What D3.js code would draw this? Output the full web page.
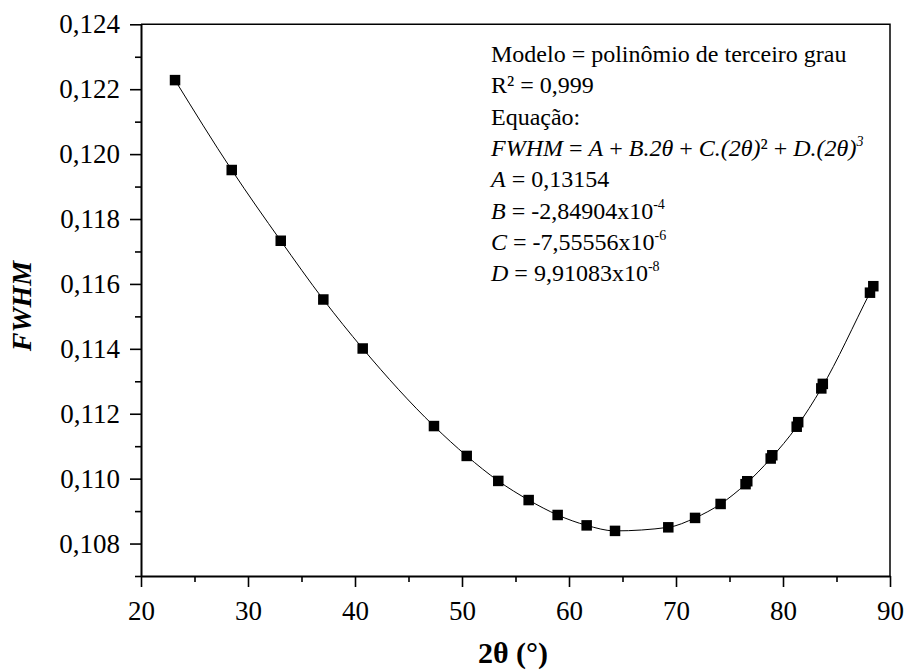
<!DOCTYPE html>
<html>
<head>
<meta charset="utf-8">
<script src="https://cdn.jsdelivr.net/npm/d3@7"></script>
<style>
  html, body { margin: 0; padding: 0; background: #ffffff; }
  svg { display: block; }
  text { font-family: "Liberation Serif", "Times New Roman", serif; fill: #000; }
</style>
</head>
<body>
<svg id="chart" width="905" height="671"></svg>
<script>
// ---- data ----
const twoTheta = [23.18, 28.48, 33.06, 37.04, 40.72, 47.38, 50.44, 53.39, 56.23, 58.94, 61.65, 64.30, 69.28, 71.78, 74.17, 76.50, 78.85, 81.28, 83.58, 88.13, 88.44];
const fwhm     = [0.12228, 0.11951, 0.11733, 0.11552, 0.11401, 0.11162, 0.11070, 0.10993, 0.10934, 0.10888, 0.10856, 0.10839, 0.10850, 0.10879, 0.10922, 0.10983, 0.11062, 0.11160, 0.11278, 0.11573, 0.11593];
// slightly offset duplicate markers visible in the picture
const twoThetaDup = [76.66, 79.00, 81.42, 83.72];
const fwhmDup     = [0.10992, 0.11072, 0.11174, 0.11292];

const xTicks = [20, 30, 40, 50, 60, 70, 80, 90];
const xMinor = [25, 35, 45, 55, 65, 75, 85];
const yTicks = [0.108, 0.110, 0.112, 0.114, 0.116, 0.118, 0.120, 0.122, 0.124];
const yMinor = [0.107, 0.109, 0.111, 0.113, 0.115, 0.117, 0.119, 0.121, 0.123];
const xTitle = "2θ (°)";
const yTitle = "FWHM";

// ---- layout ----
const svg = d3.select("#chart");
const L = 141, R = 890, T = 24.3, B = 576;
const x = d3.scaleLinear().domain([20, 90]).range([L, R]);
const y = d3.scaleLinear().domain([0.107, 0.124]).range([B, T]);
const fmtY = v => d3.format(".3f")(v).replace(".", ",");

// frame (top & right)
svg.append("path")
  .attr("d", `M${L},${T}H${R}V${B}`)
  .attr("fill", "none").attr("stroke", "#000").attr("stroke-width", 1.5);

// x axis
const gx = svg.append("g").attr("transform", `translate(0,${B})`);
gx.call(d3.axisBottom(x).tickValues(xTicks).tickSize(11).tickSizeOuter(0).tickPadding(14).tickFormat(d3.format("d")));
gx.append("g").call(d3.axisBottom(x).tickValues(xMinor).tickSize(6).tickSizeOuter(0).tickFormat(""))
  .select(".domain").remove();
// y axis
const gy = svg.append("g").attr("transform", `translate(${L},0)`);
gy.call(d3.axisLeft(y).tickValues(yTicks).tickSize(11).tickSizeOuter(0).tickPadding(10).tickFormat(fmtY));
gy.append("g").call(d3.axisLeft(y).tickValues(yMinor).tickSize(6).tickSizeOuter(0).tickFormat(""))
  .select(".domain").remove();

svg.selectAll(".domain").attr("stroke", "#000").attr("stroke-width", 2);
svg.selectAll(".tick line").attr("stroke", "#000").attr("stroke-width", 1.6);
svg.selectAll(".tick text")
  .style("font-family", "'Liberation Serif', serif")
  .style("font-size", "27px").attr("fill", "#000");

// axis titles
svg.append("text")
  .attr("x", 513).attr("y", 663)
  .attr("text-anchor", "middle")
  .style("font-size", "30px").style("font-weight", "bold")
  .text(xTitle);
svg.append("text")
  .attr("transform", `translate(31,306) rotate(-90)`)
  .attr("text-anchor", "middle")
  .style("font-size", "28px").style("font-weight", "bold").style("font-style", "italic")
  .text(yTitle);

// fitted curve drawn through the read points
const pts = twoTheta.map((d, i) => [d, fwhm[i]]);
svg.append("path")
  .datum(pts)
  .attr("fill", "none").attr("stroke", "#000").attr("stroke-width", 1)
  .attr("d", d3.line().x(d => x(d[0])).y(d => y(d[1])).curve(d3.curveMonotoneX));

// markers
const S = 10.5;
const allPts = pts.concat(twoThetaDup.map((d, i) => [d, fwhmDup[i]]));
svg.append("g").selectAll("rect").data(allPts).join("rect")
  .attr("x", d => x(d[0]) - S / 2).attr("y", d => y(d[1]) - S / 2)
  .attr("width", S).attr("height", S).attr("fill", "#000");

// annotation
const ann = svg.append("g").style("font-size", "24px");
const ax = 491, a0 = 62, dy = 31.3;
const lines = [
  [["Modelo = polinômio de terceiro grau", ""]],
  [["R² = 0,999", ""]],
  [["Equação:", ""]],
  [["FWHM", "i"], [" = ", ""], ["A", "i"], [" + ", ""], ["B.2θ", "i"], [" + ", ""], ["C.(2θ)", "i"], ["²", ""], [" + ", ""], ["D.(2θ)", "i"], ["3", "sup-i"]],
  [["A", "i"], [" = 0,13154", ""]],
  [["B", "i"], [" = -2,84904x10", ""], ["-4", "sup"]],
  [["C", "i"], [" = -7,55556x10", ""], ["-6", "sup"]],
  [["D", "i"], [" = 9,91083x10", ""], ["-8", "sup"]]
];
lines.forEach((parts, i) => {
  const t = ann.append("text").attr("x", ax).attr("y", a0 + i * dy);
  parts.forEach(([s, st]) => {
    const ts = t.append("tspan").text(s);
    if (st === "i") ts.style("font-style", "italic");
    if (st === "sup" || st === "sup-i") {
      ts.style("font-size", "14px").attr("dy", -10);
      if (st === "sup-i") ts.style("font-style", "italic");
    }
  });
});
</script>
</body>
</html>
